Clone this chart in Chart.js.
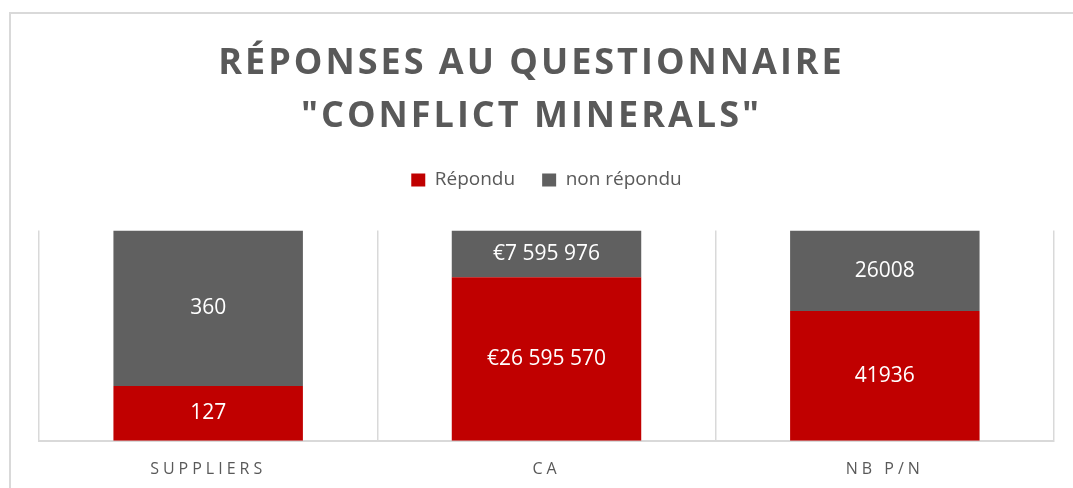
<!DOCTYPE html>
<html lang="fr">
<head>
<meta charset="utf-8">
<title>Réponses au questionnaire "Conflict Minerals"</title>
<script src="https://cdn.jsdelivr.net/npm/chart.js@4/dist/chart.umd.min.js"></script>
<style>
    html, body { margin: 0; padding: 0; background: #fff; overflow: hidden; }
    #frame {
        position: absolute; left: 9px; top: 12px;
        width: 1100px; height: 500px;
        border: 2px solid #d9d9d9;
    }
    /* a bit taller than the window: the x axis reserves its tick padding twice */
    #wrap { position: absolute; left: 0; top: 0; width: 1073px; height: 498px; }
</style>
</head>
<body>
<div id="frame"></div>
<div id="wrap"><canvas id="conflictChart"></canvas></div>
<script>
// Chart data
const categories = ['SUPPLIERS', 'CA', 'NB P/N'];
const repondu = [127, 26595570, 41936];
const nonRepondu = [360, 7595976, 26008];
const currencyCategories = ['CA'];

// 100% stacked: share of each answer per category
const totals = categories.map((c, i) => repondu[i] + nonRepondu[i]);
const toPercent = arr => arr.map((v, i) => v / totals[i] * 100);
const rawValues = [repondu, nonRepondu];

function formatValue(value, category) {
    if (currencyCategories.includes(category)) {
        return '€' + String(value).replace(/\B(?=(\d{3})+(?!\d))/g, ' ');
    }
    return String(value);
}

// Labels inside the bar segments
const segmentLabels = {
    id: 'segmentLabels',
    afterDatasetsDraw(chart) {
        const ctx = chart.ctx;
        ctx.save();
        ctx.font = '21px "Open Sans"';
        ctx.fillStyle = '#ffffff';
        ctx.textAlign = 'center';
        ctx.textBaseline = 'middle';
        chart.data.datasets.forEach((ds, di) => {
            chart.getDatasetMeta(di).data.forEach((bar, i) => {
                const text = formatValue(rawValues[di][i], categories[i]);
                ctx.fillText(text, bar.x, (bar.y + bar.base) / 2);
            });
        });
        ctx.restore();
    }
};

// Letter spacing for the title and category labels
const letterSpacing = {
    id: 'letterSpacing',
    afterLayout(chart) {
        const wrap = (obj, fn, px, dx) => {
            if (!obj || obj['_spaced_' + fn]) return;
            const orig = obj[fn].bind(obj);
            obj[fn] = function (...args) {
                chart.ctx.save();
                chart.ctx.letterSpacing = px;
                chart.ctx.translate(dx, 0);
                orig(...args);
                chart.ctx.restore();
            };
            obj['_spaced_' + fn] = true;
        };
        wrap(chart.titleBlock, 'draw', '3px', -15);
        wrap(chart.scales.x, 'drawLabels', '4px', 0);
    }
};

// Extra room under the legend
const legendGap = {
    id: 'legendGap',
    beforeInit(chart) {
        const fit = chart.legend.fit;
        chart.legend.fit = function () {
            fit.bind(chart.legend)();
            this.height += 31;
        };
    }
};

const ctx = document.getElementById('conflictChart').getContext('2d');
new Chart(ctx, {
    type: 'bar',
    data: {
        labels: categories,
        datasets: [{
            label: 'Répondu',
            data: toPercent(repondu),
            backgroundColor: '#c00000',
            barPercentage: 0.56,
            categoryPercentage: 1
        }, {
            label: 'non répondu',
            data: toPercent(nonRepondu),
            backgroundColor: '#606060',
            barPercentage: 0.56,
            categoryPercentage: 1
        }]
    },
    plugins: [segmentLabels, letterSpacing, legendGap],
    options: {
        responsive: true,
        maintainAspectRatio: false,
        animation: false,
        layout: {
            padding: { left: 39, right: 19, bottom: 0 }
        },
        plugins: {
            title: {
                display: true,
                text: ['RÉPONSES AU QUESTIONNAIRE', '"CONFLICT MINERALS"'],
                color: '#595959',
                font: { family: 'Open Sans', size: 36, weight: 'bold', lineHeight: 1.45 },
                padding: { top: 38, bottom: 1 }
            },
            legend: {
                position: 'top',
                labels: {
                    color: '#595959',
                    font: { family: 'Open Sans', size: 19 },
                    boxWidth: 14,
                    boxHeight: 13,
                    padding: 27
                }
            },
            tooltip: { enabled: false }
        },
        scales: {
            x: {
                stacked: true,
                grid: {
                    offset: true,
                    color: '#d9d9d9',
                    lineWidth: 1.5,
                    drawTicks: false
                },
                border: { color: '#d9d9d9', width: 2 },
                ticks: {
                    color: '#595959',
                    font: { family: 'Open Sans', size: 16 },
                    padding: 19
                }
            },
            y: {
                stacked: true,
                display: false,
                min: 0,
                max: 100
            }
        }
    }
});
</script>
</body>
</html>
